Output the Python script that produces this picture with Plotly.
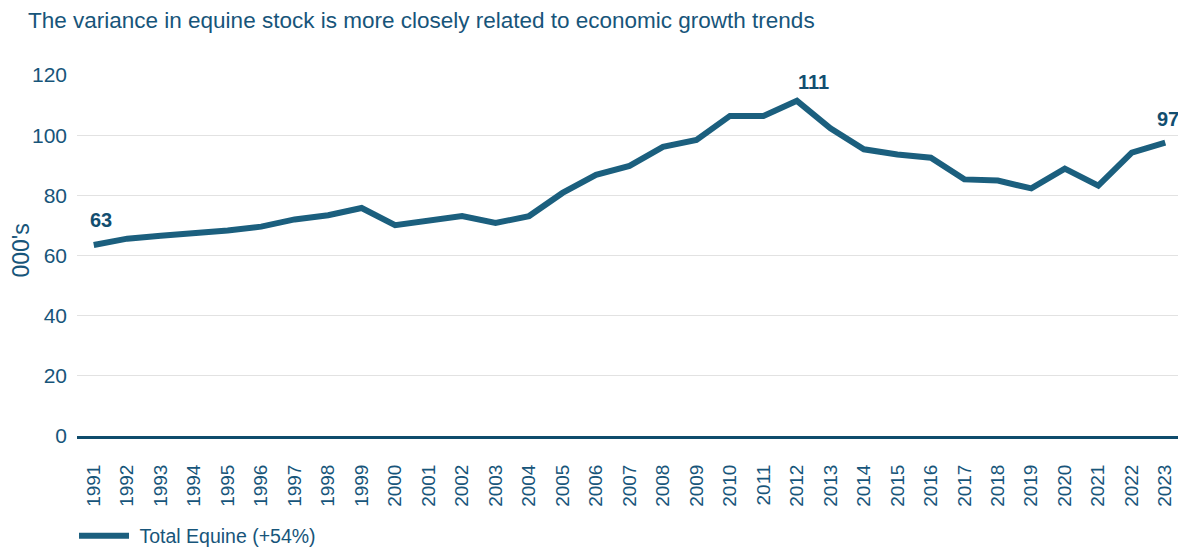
import plotly.graph_objects as go

years = list(range(1991, 2024))
total_equine = [63.5, 65.6, 66.6, 67.4, 68.3, 69.6, 72.0, 73.4, 75.8, 70.1,
                71.5, 73.1, 70.8, 73.1, 80.8, 86.8, 89.8, 96.1, 98.4, 106.4,
                106.4, 111.4, 102.3, 95.3, 93.6, 92.5, 85.3, 84.9, 82.3, 88.9,
                83.2, 94.2, 97.5]
series_name = "Total Equine (+54%)"
title_text = "The variance in equine stock is more closely related to economic growth trends"
y_title = "000's"
y_ticks = [0, 20, 40, 60, 80, 100, 120]
labels = [(1991, "63"), (2012, "111"), (2023, "97")]
label_shift = {1991: (7, 25), 2012: (17, 19), 2023: (3, 24)}

LINE = "#1b5f7e"
TEXT = "#17557a"
AXIS = "#0f4c6c"
FONT = "Liberation Sans, Arial, Helvetica, sans-serif"

# the page body adds an 8px margin, so the figure is 8px smaller
W, H = 1178, 543
fig = go.Figure()
fig.add_trace(go.Scatter(
    x=years, y=total_equine, mode="lines", name="\u00a0" + series_name,
    line=dict(color=LINE, width=6),
))

for yr, txt in labels:
    v = total_equine[years.index(yr)]
    dx, dy = label_shift[yr]
    fig.add_annotation(x=yr, y=v, text=f"<b>{txt}</b>", showarrow=False,
                       xshift=dx, yshift=dy,
                       font=dict(family=FONT, size=20, color="#124e70"))

fig.add_annotation(x=0, y=0.5, xref="paper", yref="paper", text=y_title,
                   showarrow=False, textangle=-90, xanchor="center",
                   yanchor="middle", xshift=-57, yshift=5,
                   font=dict(family=FONT, size=23, color=TEXT))

fig.update_layout(
    width=W, height=H,
    paper_bgcolor="white", plot_bgcolor="white",
    margin=dict(l=69, r=4, t=67, b=115, autoexpand=False),
    font=dict(family=FONT, color=TEXT),
    title=dict(text=title_text, x=20/W, xanchor="left", xref="container",
               y=1-12/H, yanchor="middle", yref="container",
               pad=dict(l=0, r=0, t=0, b=0),
               font=dict(size=22.5, color=TEXT)),
    showlegend=True,
    legend=dict(orientation="h", x=-0.0027, xanchor="left", y=-0.277, yanchor="middle",
                font=dict(size=19.5, color=TEXT), itemwidth=50,
                bgcolor="rgba(0,0,0,0)"),
    xaxis=dict(
        range=[1990.5, 2023.5], tickmode="array", tickvals=years,
        ticktext=[str(y) for y in years], tickangle=-90,
        tickfont=dict(size=19, color=TEXT), showgrid=False,
        showline=True, linecolor=AXIS, linewidth=3, zeroline=False,
        ticks="", ticklabelstandoff=18, automargin=False,
    ),
    yaxis=dict(
        range=[0, 120], tickmode="array", tickvals=y_ticks,
        tickfont=dict(size=21, color=TEXT), showgrid=True,
        gridcolor="#e2e2e2", gridwidth=1, zeroline=False,
        ticks="", ticklabelstandoff=9, automargin=False,
    ),
)

fig.write_html("out.html")
